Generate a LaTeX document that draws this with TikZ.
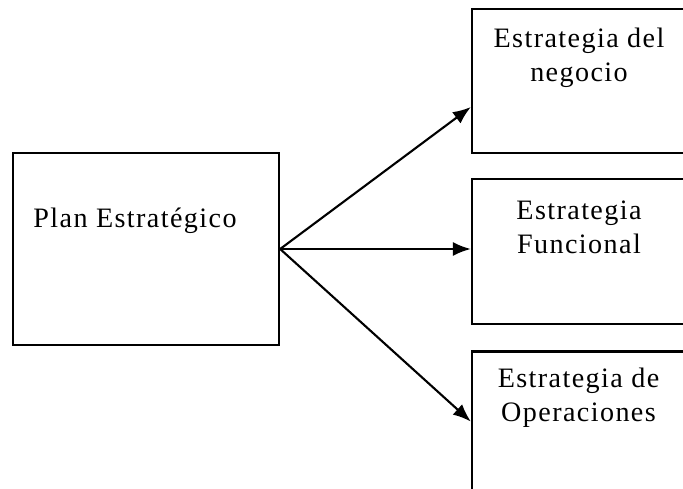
\documentclass[tikz,border=0pt]{standalone}
\usepackage{fontspec}
\setmainfont{Liberation Serif}[LetterSpace=5]
\usetikzlibrary{positioning,arrows.meta}

\begin{document}
\begin{tikzpicture}[
		caja/.style={draw,line width=1.3pt,minimum width=4.4cm},
		texto/.style={font=\fontsize{16}{19.5}\selectfont,align=center},
		flecha/.style={line width=1.2pt,-{Latex[length=3.6mm,width=2.8mm]}}]
			\useasboundingbox (0,0) rectangle (13.66,-9.76);
			\clip (0,0) rectangle (13.66,-9.76);
			% Plan
			\node[draw,line width=1.3pt,minimum width=5.32cm,minimum height=3.84cm] (plan) at (2.92,-4.98) {};
			\node[texto] (planTxt) at ([xshift=-0.22cm,yshift=-1.38cm]plan.north) {Plan Estratégico};
			% Estrategias
			\node[caja,minimum height=2.88cm] (negocio) at (11.64,-1.62) {};
			\node[caja,minimum height=2.9cm,below=0.48cm of negocio] (funcional) {};
			\node[caja,minimum height=3.06cm,below=0.5cm of funcional] (operaciones) {};
			\node[texto] (negocioTxt) at ([xshift=-0.06cm,yshift=-1cm]negocio.north) {Estrategia del\\negocio};
			\node[texto] (funcionalTxt) at ([xshift=-0.06cm,yshift=-0.98cm]funcional.north) {Estrategia\\Funcional};
			\node[texto] (operacionesTxt) at ([xshift=-0.07cm,yshift=-0.95cm]operaciones.north) {Estrategia de\\Operaciones};
			% Flechas
			\draw[flecha] (plan.east) -- ([yshift=-0.52cm]negocio.west);
			\draw[flecha] (plan.east) -- (plan.east -| funcional.west);
			\draw[flecha] (plan.east) -- ([yshift=0.13cm]operaciones.west);
		\end{tikzpicture}
\end{document}
